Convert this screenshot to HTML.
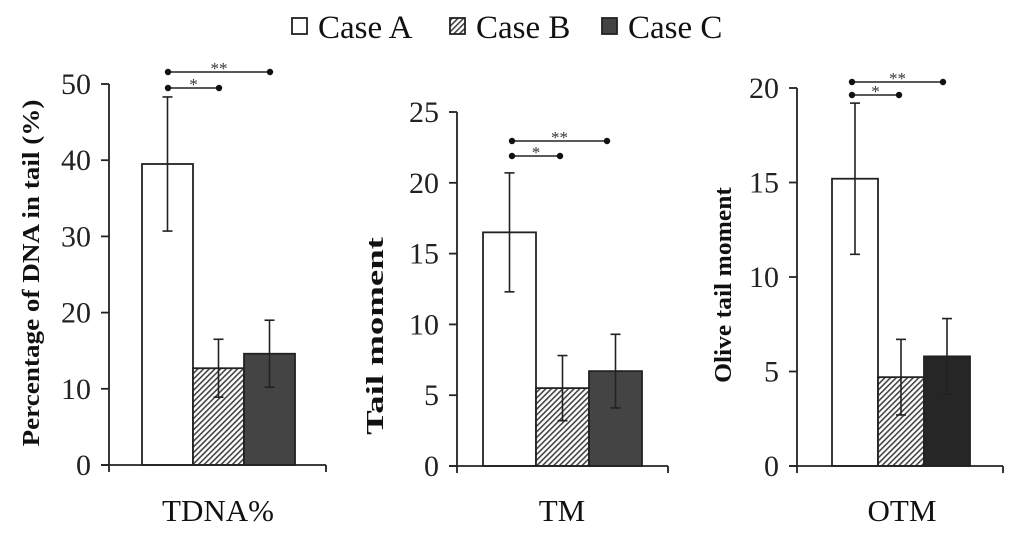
<!DOCTYPE html>
<html><head><meta charset="utf-8"><style>
body{margin:0;background:#fff;}
svg{display:block;font-family:"Liberation Serif",serif;}
</style></head><body>
<svg id="chart" width="1024" height="547" viewBox="0 0 1024 547">
<defs>
<pattern id="hatch" patternUnits="userSpaceOnUse" width="4" height="4" patternTransform="rotate(45)">
<rect width="4" height="4" fill="#fff"/><rect width="1.6" height="4" fill="#444"/>
</pattern>
</defs>
<g>
<rect x="292" y="18" width="15" height="16" fill="#fff" stroke="#222" stroke-width="1.8"/>
<text x="318" y="38" font-size="33" fill="#111">Case A</text>
<rect x="450" y="18" width="15" height="16" fill="url(#hatch)" stroke="#222" stroke-width="1.8"/>
<text x="476" y="38" font-size="33" fill="#111">Case B</text>
<rect x="602" y="18" width="15" height="16" fill="#444" stroke="#222" stroke-width="1.8"/>
<text x="628" y="38" font-size="33" fill="#111">Case C</text>
</g>
<g id="plots"></g>
</svg>
<script>
const categories = ["Case A","Case B","Case C"];
const tdnaValues = [39.5, 12.7, 14.6];
const tdnaErrors = [8.8, 3.8, 4.4];
const tmValues = [16.5, 5.5, 6.7];
const tmErrors = [4.2, 2.3, 2.6];
const otmValues = [15.2, 4.7, 5.8];
const otmErrors = [4.0, 2.0, 2.0];
const tdnaTicks = [0,10,20,30,40,50];
const tmTicks = [0,5,10,15,20,25];
const otmTicks = [0,5,10,15,20];

const NS="http://www.w3.org/2000/svg";
const root=document.getElementById('plots');
function mk(tag,attrs,parent){const e=document.createElementNS(NS,tag);for(const k in attrs)e.setAttribute(k,attrs[k]);parent.appendChild(e);return e;}
const panels=[
 {name:"tdna",vals:tdnaValues,errs:tdnaErrors,ticks:tdnaTicks,max:50,ax:109,top:84,bot:465,right:326,bar0:142,bw:51,ylab:"Percentage of DNA in tail (%)",ylx:30,yll:347,ylc:273,xlab:"TDNA%",xlx:218,sig2:72,sig1:88,s0:168,s1:219,s2:270,fills:["#fff","url(#hatch)","#444"]},
 {name:"tm",vals:tmValues,errs:tmErrors,ticks:tmTicks,max:25,ax:457,top:112,bot:466,right:668,bar0:483,bw:53,ylab:"Tail moment",ylx:374,yll:198,ylc:336,xlab:"TM",xlx:562,sig2:141,sig1:156,s0:512,s1:560,s2:607,fills:["#fff","url(#hatch)","#444"]},
 {name:"otm",vals:otmValues,errs:otmErrors,ticks:otmTicks,max:20,ax:797,top:88,bot:466,right:1003,bar0:832,bw:46,ylab:"Olive tail moment",ylx:722,yll:196,ylc:285,xlab:"OTM",xlx:902,sig2:82,sig1:95,s0:852,s1:899,s2:943,fills:["#fff","url(#hatch)","#262626"]}
];
panels.forEach(p=>{
 const g=mk('g',{},root);
 
 
 const y=v=>p.bot-(v/p.max)*(p.bot-p.top);
 p.vals.forEach((v,i)=>{
  const x=p.bar0+i*p.bw;
  const r=mk('rect',{x:x,y:y(v),width:p.bw,height:p.bot-y(v),fill:p.fills[i],stroke:"#222","stroke-width":1.8},g);
  
  
 });
 p.vals.forEach((v,i)=>{
  const cx=p.bar0+i*p.bw+p.bw/2, e=p.errs[i];
  const eg=mk('g',{stroke:"#222","stroke-width":1.6},g);
  
  
  mk('line',{x1:cx,x2:cx,y1:y(v+e),y2:y(v-e)},eg);
  mk('line',{x1:cx-5,x2:cx+5,y1:y(v+e),y2:y(v+e)},eg);
  mk('line',{x1:cx-5,x2:cx+5,y1:y(v-e),y2:y(v-e)},eg);
 });
 const ag=mk('g',{stroke:"#222","stroke-width":1.8},g);
 
 
 mk('line',{x1:p.ax,x2:p.ax,y1:p.top,y2:p.bot},ag);
 mk('line',{x1:p.ax-8,x2:p.right,y1:p.bot,y2:p.bot},ag);
 mk('line',{x1:p.right,x2:p.right,y1:p.bot,y2:p.bot+7},ag);
 mk('line',{x1:p.ax,x2:p.ax,y1:p.bot,y2:p.bot+7},ag);
 p.ticks.forEach(t=>{
  mk('line',{x1:p.ax-8,x2:p.ax,y1:y(t),y2:y(t)},ag);
  const tx=mk('text',{x:p.ax-18,y:y(t)+10,"font-size":30,"text-anchor":"end",fill:"#222",stroke:"none"},g);
  tx.textContent=t;
  
  
 });
 const yl=mk('text',{x:0,y:0,"font-size":24,"font-weight":"bold","text-anchor":"middle",fill:"#111"},g);
 yl.textContent=p.ylab;
 
 
 const len=yl.getComputedTextLength()||1;
 yl.setAttribute('transform',`translate(${p.ylx+9},${p.ylc}) rotate(-90) scale(${p.yll/len},1)`);
 const xl=mk('text',{x:p.xlx,y:521,"font-size":31,"text-anchor":"middle",fill:"#111"},g);
 xl.textContent=p.xlab;
 
 
 [[p.sig2,p.s2,"**"],[p.sig1,p.s1,"*"]].forEach(([sy,ex,lab])=>{
  const sg=mk('g',{},g);
  
  
  mk('line',{x1:p.s0,x2:ex,y1:sy,y2:sy,stroke:"#222","stroke-width":1.6},sg);
  mk('circle',{cx:p.s0,cy:sy,r:3.2,fill:"#111"},sg);
  mk('circle',{cx:ex,cy:sy,r:3.2,fill:"#111"},sg);
  const st=mk('text',{x:(p.s0+ex)/2,y:sy+2,"font-size":17,"text-anchor":"middle",fill:"#333"},sg);
  st.textContent=lab;
 });
});
</script>
</body></html>
